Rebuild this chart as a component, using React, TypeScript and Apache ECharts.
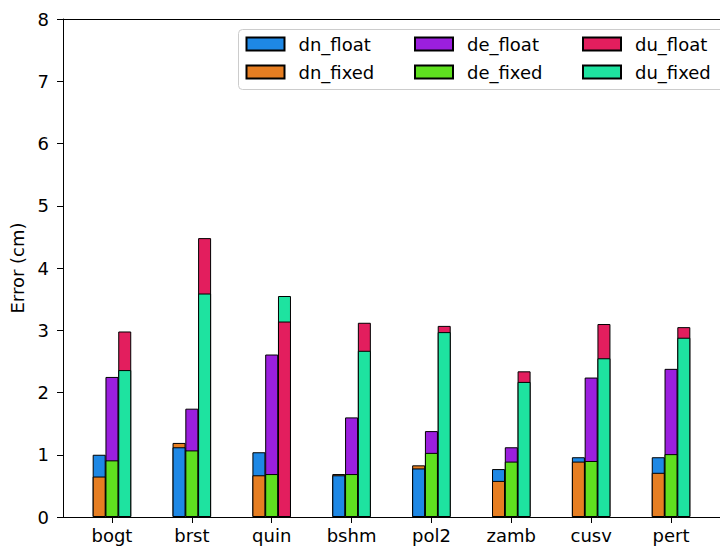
import React, { useEffect, useRef } from "react";
import * as echarts from "echarts";

const stations = ["bogt", "brst", "quin", "bshm", "pol2", "zamb", "cusv", "pert"];
const dnFloat = [1.0, 1.12, 1.04, 0.67, 0.78, 0.77, 0.96, 0.96];
const dnFixed = [0.65, 1.19, 0.67, 0.69, 0.83, 0.58, 0.89, 0.71];
const deFloat = [2.25, 1.74, 2.61, 1.6, 1.38, 1.12, 2.24, 2.38];
const deFixed = [0.91, 1.07, 0.69, 0.69, 1.03, 0.89, 0.9, 1.01];
const duFloat = [2.98, 4.48, 3.14, 3.12, 3.07, 2.34, 3.1, 3.05];
const duFixed = [2.36, 3.59, 3.55, 2.67, 2.97, 2.17, 2.55, 2.88];
const yTicks = [0, 1, 2, 3, 4, 5, 6, 7, 8];

const colors: Record<string, string> = {
  dn_float: "#1E88E5",
  dn_fixed: "#E67E22",
  de_float: "#9B1FDE",
  de_fixed: "#5FE01F",
  du_float: "#E31E5E",
  du_fixed: "#1EE3A0",
};

const FONT = "DejaVu Sans";
const FS = 18;

export default function App() {
  const ref = useRef<HTMLDivElement>(null);
  useEffect(() => {
    document.body.style.margin = "0";
    if (!ref.current) return;
    const chart = echarts.init(ref.current, undefined, { renderer: "svg" });

    const comps = [
      { key: "dn", off: -0.16, fl: dnFloat, fx: dnFixed },
      { key: "de", off: 0, fl: deFloat, fx: deFixed },
      { key: "du", off: 0.16, fl: duFloat, fx: duFixed },
    ];

    const series: any[] = [];
    const mk = (name: string, data: number[][]) => ({
      type: "bar",
      name,
      data,
      barWidth: 13,
      barGap: "-100%",
      itemStyle: { color: colors[name], borderColor: "#000", borderWidth: 1 },
      emphasis: { disabled: true },
    });
    comps.forEach((c) => {
      const flBack: number[][] = [];
      const fxBack: number[][] = [];
      const flFront: number[][] = [];
      const fxFront: number[][] = [];
      stations.forEach((_, i) => {
        const x = i + c.off;
        if (c.fl[i] >= c.fx[i]) {
          flBack.push([x, c.fl[i]]);
          fxFront.push([x, c.fx[i]]);
        } else {
          fxBack.push([x, c.fx[i]]);
          flFront.push([x, c.fl[i]]);
        }
      });
      series.push(mk(c.key + "_float", flBack));
      series.push(mk(c.key + "_fixed", fxBack));
      series.push(mk(c.key + "_float", flFront));
      series.push(mk(c.key + "_fixed", fxFront));
    });

    const legendNames = [
      ["dn_float", "de_float", "du_float"],
      ["dn_fixed", "de_fixed", "du_fixed"],
    ];
    const colX = [245.5, 414, 582];
    const rowTop = [33.5, 61.5];
    const legends: any[] = [];
    legendNames.forEach((row, r) =>
      row.forEach((n, ci) => {
        legends.push({
          data: [n],
          left: colX[ci],
          top: rowTop[r],
          padding: 0,
          itemWidth: 38,
          itemHeight: 13,
          icon: "rect",
          selectedMode: false,
          textStyle: {
            fontFamily: FONT,
            fontSize: FS,
            color: "#000",
            lineHeight: 21,
            padding: [0, 0, 0, 9],
          },
        });
      })
    );

    const xAxisCommon = {
      type: "value",
      min: -0.613,
      max: 7.613,
      splitLine: { show: false },
      axisLine: { show: true, onZero: false, lineStyle: { color: "#000", width: 1 } },
    };

    chart.setOption({
      animation: false,
      grid: { left: 63, right: -10, top: 19, bottom: 31 },
      legend: legends,
      graphic: [
        {
          type: "rect",
          shape: { x: 238.5, y: 29.5, width: 520, height: 60, r: 4 },
          style: { fill: "rgba(255,255,255,0.8)", stroke: "#cccccc", lineWidth: 1 },
          z: 3,
        },
      ],
      xAxis: [
        {
          ...xAxisCommon,
          position: "bottom",
          axisTick: {
            show: true,
            length: 6,
            customValues: stations.map((_, i) => i),
            lineStyle: { color: "#000" },
          },
          axisLabel: {
            show: true,
            customValues: stations.map((_, i) => i),
            formatter: (v: number) => stations[Math.round(v)] ?? "",
            fontFamily: FONT,
            fontSize: FS,
            color: "#000",
            margin: 9,
          },
        },
        {
          ...xAxisCommon,
          position: "top",
          axisTick: { show: false },
          axisLabel: { show: false },
        },
      ],
      yAxis: {
        type: "value",
        min: yTicks[0],
        max: yTicks[yTicks.length - 1],
        interval: 1,
        splitLine: { show: false },
        axisLine: { show: true, onZero: false, lineStyle: { color: "#000", width: 1 } },
        axisTick: { show: true, length: 6, lineStyle: { color: "#000" } },
        axisLabel: {
          fontFamily: FONT,
          fontSize: FS,
          color: "#000",
          margin: 14,
        },
        name: "Error (cm)",
        nameLocation: "middle",
        nameGap: 31,
        nameTextStyle: { fontFamily: FONT, fontSize: FS, color: "#000" },
      },
      series,
    });
    return () => chart.dispose();
  }, []);
  return <div ref={ref} style={{ width: 720, height: 548 }} />;
}
